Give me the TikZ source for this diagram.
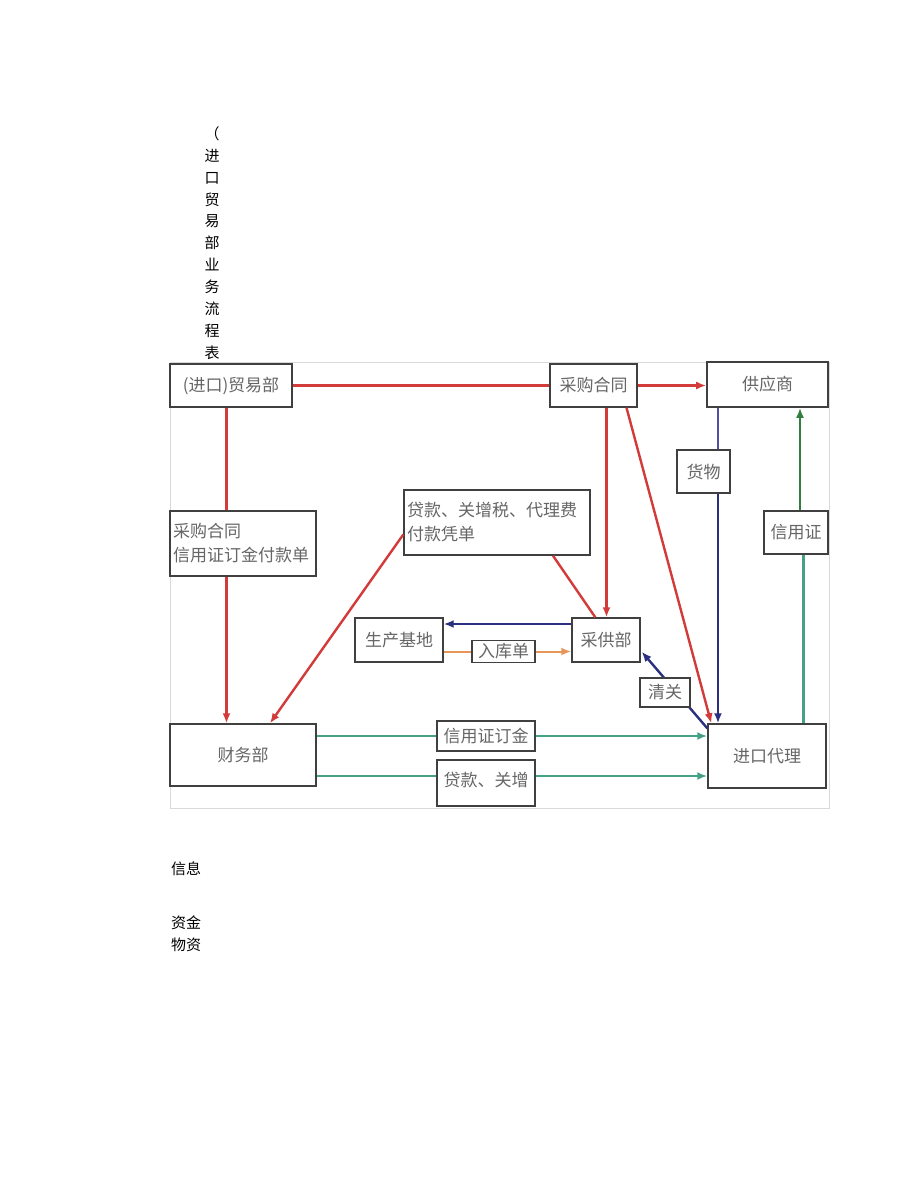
\documentclass[tikz,border=0pt]{standalone}
\usepackage{fontspec}
\newfontfamily\cjk{Noto Sans CJK SC}
\usetikzlibrary{arrows.meta,calc}
\definecolor{cred}{HTML}{D33B3B}
\definecolor{cnavy}{HTML}{2B2F7F}
\definecolor{cblue}{HTML}{4F4FA8}
\definecolor{cteal}{HTML}{45A085}
\definecolor{cgreen}{HTML}{2F7F3F}
\definecolor{corange}{HTML}{E8955A}
\begin{document}
\begin{tikzpicture}[x=1pt,y=-1pt,
  box/.style={draw=black!75,line width=1.4pt,fill=white,text=black!60,
    font=\cjk\fontsize{17}{24}\selectfont,inner sep=0pt},
  plain/.style={font=\cjk\fontsize{15}{21.9}\selectfont,text=black,inner sep=0pt},
  tip/.style={-{Latex[length=10pt,width=8pt]}},
  redl/.style={draw=cred,line width=2.4pt},
  navyl/.style={draw=cnavy,line width=2.4pt},
  bluel/.style={draw=cblue,line width=2pt},
  teall/.style={draw=cteal,line width=2.3pt},
  greenl/.style={draw=cgreen,line width=2.6pt},
  orangel/.style={draw=corange,line width=2pt}
]
\useasboundingbox (0,0) rectangle (920,1192);
\fill[white] (0,0) rectangle (920,1192);
\draw[black!15,line width=0.8pt] (170,362) rectangle (829,808);

% title and legend
\node[plain,align=center] (title) at (212,243) {（\\进\\口\\贸\\易\\部\\业\\务\\流\\程\\表};
\node[plain,anchor=west] (lg1) at (171,869) {信息};
\node[plain,anchor=west] (lg2) at (171,923) {资金};
\node[plain,anchor=west] (lg3) at (171,945) {物资};

% main nodes
\node[box,minimum width=122,minimum height=43] (trade) at (231,385.5) {(进口)贸易部};
\node[box,minimum width=87,minimum height=43] (contract) at (593.5,385.5) {采购合同};
\node[box,minimum width=121,minimum height=45,line width=1.7pt] (supplier) at (767.5,384.5) {供应商};
\node[box,minimum width=53,minimum height=43] (goods) at (703.5,471.5) {货物};
\node[box,minimum width=64,minimum height=43,line width=1.7pt] (credit) at (796,532.5) {信用证};
\node[box,minimum width=146,minimum height=65,line width=1.7pt,align=left,text width=140] (form) at (243,543.5) {采购合同\\信用证订金付款单};
\node[box,minimum width=186,minimum height=65,align=left,text width=180] (voucher) at (497,522.5) {贷款、关增税、代理费\\付款凭单};
\node[box,minimum width=88,minimum height=44] (base) at (399,640) {生产基地};
\node[box,minimum width=68,minimum height=44] (caigong) at (606,640) {采供部};
\node[box,minimum width=63,minimum height=22,line width=1.8pt] (ruku) at (503.5,651.5) {入库单};
\node[box,minimum width=146,minimum height=62] (finance) at (243,755) {财务部};
\node[box,minimum width=98,minimum height=30,line width=1.8pt] (xyd) at (486,736) {信用证订金};
\node[box,minimum width=98,minimum height=46] (dk) at (486,783) {\raisebox{8pt}{贷款、关增}};
\node[box,minimum width=118,minimum height=64] (agent) at (767,756) {进口代理};

% red connectors
\draw[redl] (trade.east) -- (contract.west);
\draw[redl,tip] (contract.east) -- (contract.east -| supplier.west);
\coordinate (t1) at ($(trade.south)+(-4.5,0)$);
\draw[redl] (t1) -- (t1 |- form.north);
\draw[redl,tip] (t1 |- form.south) -- (t1 |- finance.north);
\draw[redl,tip] ($(contract.south -| caigong.north)+(0.5,0)$) -- ($(caigong.north)+(0.5,0)$);
\draw[redl,tip] ($(contract.south)+(33,0)$) -- ($(agent.north west)+(4,0)$);
\draw[redl] ($(voucher.south)+(56,0)$) -- ($(caigong.north west)+(24,0)$);
\draw[redl,tip] ($(voucher.west)+(0,12)$) -- ($(finance.north)+(27,0)$);

% goods / materials
\coordinate (g1) at ($(supplier.south)+(-49.5,0)$);
\draw[bluel] (g1) -- (g1 |- goods.north);
\draw[navyl,tip] (g1 |- goods.south) -- (g1 |- agent.north);
\draw[navyl,tip] ($(caigong.west)+(0,-16)$) -- ($(base.east)+(0,-16)$);
\draw[orangel] (base.east |- ruku.west) -- (ruku.west);
\draw[orangel,tip] (ruku.east) -- (ruku.east -| caigong.west);
\draw[navyl,tip] ($(agent.north west)+(0,5)$) -- ($(caigong.south east)+(1,-11)$);
\node[box,minimum width=50,minimum height=29] (qg) at (665,692.5) {清关};

% funds
\draw[teall] ($(agent.north)+(36.5,0)$) -- ($(credit.south)+(7.5,0)$);
\draw[greenl,tip] ($(credit.north)+(4,0)$) -- ($(supplier.south)+(32.5,0)$);
\coordinate (f1) at ($(finance.east)+(0,-19)$);
\coordinate (f2) at ($(finance.east)+(0,21)$);
\draw[teall] (f1) -- (xyd.west);
\draw[teall,tip] (xyd.east) -- (f1 -| agent.west);
\draw[teall] (f2) -- (f2 -| dk.west);
\draw[teall,tip] (f2 -| dk.east) -- (f2 -| agent.west);
\end{tikzpicture}
\end{document}
